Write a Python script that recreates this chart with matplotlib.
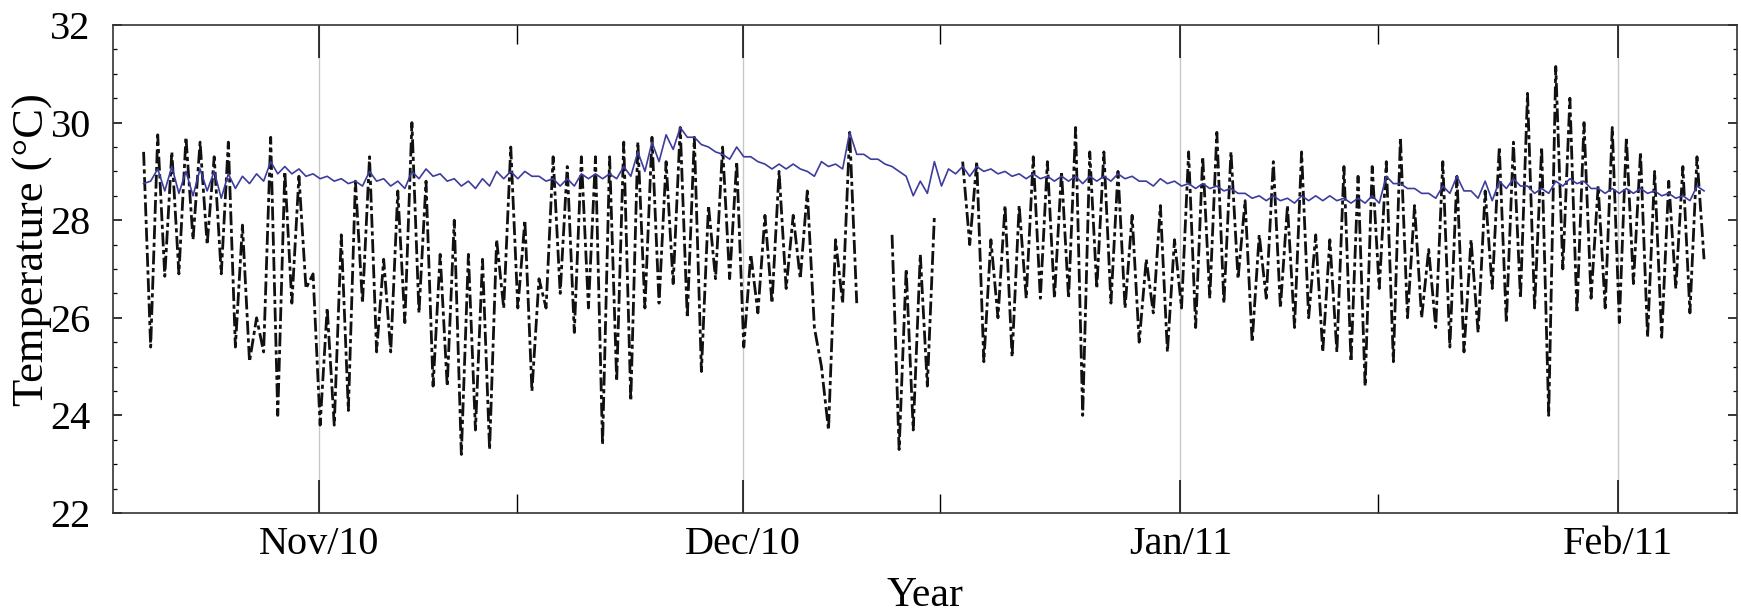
import numpy as np
import pandas as pd
import matplotlib
matplotlib.use('Agg')
import matplotlib.pyplot as plt
import matplotlib.dates as mdates
from matplotlib.ticker import MultipleLocator

nan = np.nan

# first sample day; each day has an afternoon peak and a night low
first_day = '2010-10-19 14:00'

# measured temperature (black), peak / low per day, 19 Oct 2010 .. 6 Feb 2011
black_peak = [29.4, 29.75, 29.4, 29.7, 29.6, 29.3, 29.6, 27.9, 26.0, 29.7, 29.0, 28.9, 26.9,
              26.2, 27.7, 28.8, 29.3, 27.2, 28.6, 30.0, 28.8, 27.3, 28.0, 27.3, 27.2, 27.6, 29.5, 28.0,
              26.8, 29.3, 29.1, 29.3, 29.3, 29.3, 29.6, 29.6, 29.7, 29.2, 29.9, 29.7, 28.3, 29.5, 29.2,
              27.3, 28.1, 29.0, 28.1, 28.6, 25.0, 27.6, 29.8, nan, nan, 27.7, 27.0, 27.3, 28.1, nan,
              29.2, 29.2, 27.6, 28.3, 28.3, 29.3, 29.2, 29.0, 29.9, 29.4, 29.4, 29.0, 28.1, 27.2, 28.3, 27.6,
              29.4, 29.3, 29.8, 29.4, 28.4, 27.7, 29.2, 28.3, 29.4, 27.7, 27.6, 29.1, 28.9, 29.1, 29.2,
              29.7, 28.3, 27.4, 29.2, 28.9, 27.6, 28.6, 29.5, 29.6, 30.6, 29.5, 31.15, 30.5, 30.0, 28.7, 29.9,
              29.7, 29.4, 29.0, 28.8, 29.1, 29.3]
black_low = [25.4, 26.85, 26.9, 27.6, 27.5, 26.9, 25.4, 25.1, 25.3, 24.0, 26.3, 26.6, 23.8,
             23.8, 24.1, 26.3, 25.3, 25.3, 25.9, 26.1, 24.6, 24.6, 23.2, 23.7, 23.3, 26.2, 26.2, 24.5,
             26.2, 26.5, 25.7, 26.2, 23.4, 24.7, 24.3, 26.2, 26.3, 26.7, 26.0, 24.9, 26.8, 26.8, 25.4,
             26.1, 26.3, 26.6, 26.8, 25.8, 23.7, 26.3, 26.3, nan, nan, 23.3, 23.7, 24.6, nan, nan,
             27.5, 25.1, 26.0, 25.2, 26.4, 26.4, 26.4, 26.4, 24.0, 26.6, 26.3, 26.2, 25.5, 26.1, 25.3, 26.2,
             25.8, 26.4, 26.3, 26.8, 25.5, 26.4, 26.2, 25.8, 26.0, 25.3, 25.3, 25.1, 24.6, 26.6, 25.1,
             26.0, 26.0, 25.8, 25.4, 25.3, 25.7, 26.6, 25.9, 26.4, 26.2, 24.0, 27.0, 26.1, 26.4, 26.2, 25.9,
             26.7, 25.6, 25.6, 26.6, 26.1, 27.2]

# second temperature record (blue), peak / low per day, same days
blue_peak = [28.75, 29.05, 29.1, 29.0, 29.05, 29.0, 28.95, 28.9, 28.95, 29.2, 29.1, 29.05, 28.95,
             28.9, 28.85, 28.8, 29.0, 28.85, 28.8, 29.0, 29.05, 28.95, 28.85, 28.8, 28.85, 29.0, 29.0, 29.0,
             28.9, 28.85, 28.85, 28.95, 28.95, 28.95, 29.1, 29.4, 29.6, 29.75, 29.9, 29.7, 29.5, 29.35, 29.5,
             29.3, 29.15, 29.15, 29.15, 29.0, 29.2, 29.15, 29.8, 29.35, 29.25, 29.1, 28.9, 28.8, 29.2, 29.05,
             29.1, 29.1, 29.05, 29.0, 28.95, 28.95, 28.9, 28.9, 28.9, 28.9, 28.9, 28.95, 28.9, 28.8, 28.85, 28.8,
             28.75, 28.75, 28.7, 28.65, 28.55, 28.5, 28.5, 28.45, 28.5, 28.5, 28.5, 28.45, 28.45, 28.5, 28.9,
             28.75, 28.65, 28.55, 28.7, 28.9, 28.6, 28.8, 28.8, 28.85, 28.7, 28.65, 28.8, 28.85, 28.8, 28.65, 28.65,
             28.65, 28.65, 28.6, 28.55, 28.5, 28.7]
blue_low = [28.8, 28.6, 28.55, 28.5, 28.6, 28.45, 28.65, 28.75, 28.8, 28.95, 28.95, 28.9, 28.85,
            28.8, 28.75, 28.7, 28.8, 28.7, 28.65, 28.85, 28.9, 28.8, 28.7, 28.65, 28.7, 28.85, 28.85, 28.9,
            28.8, 28.7, 28.7, 28.85, 28.85, 28.85, 28.9, 29.0, 29.2, 29.45, 29.7, 29.55, 29.4, 29.25, 29.3,
            29.2, 29.05, 29.05, 29.05, 28.9, 29.1, 29.05, 29.35, 29.25, 29.15, 29.0, 28.5, 28.55, 28.7, 28.95,
            28.9, 29.0, 28.95, 28.9, 28.85, 28.85, 28.8, 28.8, 28.75, 28.8, 28.8, 28.85, 28.8, 28.7, 28.75, 28.7,
            28.65, 28.65, 28.6, 28.55, 28.45, 28.4, 28.4, 28.35, 28.4, 28.4, 28.4, 28.35, 28.35, 28.35, 28.75,
            28.65, 28.55, 28.45, 28.55, 28.6, 28.45, 28.4, 28.65, 28.7, 28.55, 28.55, 28.7, 28.75, 28.65, 28.55, 28.55,
            28.55, 28.55, 28.5, 28.45, 28.4, 28.6]

y_ticks = [22, 24, 26, 28, 30, 32]


def interleave(peak, low):
    out = np.empty(2 * len(peak))
    out[0::2] = peak
    out[1::2] = low
    return out


black = interleave(black_peak, black_low)
blue = interleave(blue_peak, blue_low)
t = pd.date_range(first_day, periods=len(black), freq='12h')

plt.rcParams['font.family'] = ['Liberation Serif', 'DejaVu Serif']

fig = plt.figure(figsize=(17.41, 6.15), dpi=100)
ax = fig.add_axes([113 / 1741, 1 - 513 / 615, (1737 - 113) / 1741, (513 - 25) / 615])

ax.plot(t, black, color='#111111', linewidth=2.0, linestyle=(0, (5, 1.3, 1.5, 1.3)))
ax.plot(t, blue, color='#3c3c9c', linewidth=1.2)

ax.set_xlim(pd.Timestamp('2010-10-17 10:00'), pd.Timestamp('2011-02-09 10:00'))
ax.set_ylim(22, 32)

ax.xaxis.set_major_locator(mdates.MonthLocator())
ax.xaxis.set_minor_locator(mdates.MonthLocator(bymonthday=15))
ax.xaxis.set_major_formatter(mdates.DateFormatter('%b/%y'))
ax.set_yticks(y_ticks)
ax.yaxis.set_minor_locator(MultipleLocator(0.5))

ax.tick_params(axis='x', which='major', direction='in', length=24, width=1.1,
               top=True, bottom=True, labelsize=29, pad=9)
ax.tick_params(axis='x', which='minor', direction='in', length=14, width=1.0,
               top=True, bottom=True)
ax.tick_params(axis='y', which='major', direction='in', length=6.5, width=1.1,
               left=True, right=True, labelsize=29, pad=16)
ax.tick_params(axis='y', which='minor', direction='in', length=3, width=0.9,
               left=True, right=True)

ax.grid(True, axis='x', which='major', color='#c8c8c8', linewidth=1.0)
ax.set_axisbelow(True)
for s in ax.spines.values():
    s.set_linewidth(1.2)
    s.set_color('#333333')

ax.set_xlabel('Year', fontsize=30)
ax.xaxis.set_label_coords(0.5, -0.131)
ax.set_ylabel('Temperature (°C)', fontsize=32)
ax.yaxis.set_label_coords(-0.037, 0.539)

fig.savefig('out.png', dpi=100)
